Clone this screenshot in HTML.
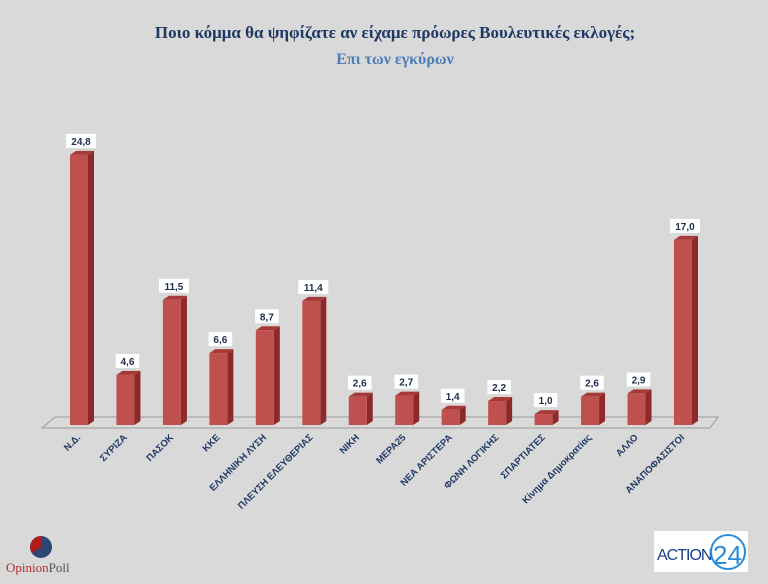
<!DOCTYPE html>
<html><head><meta charset="utf-8"><style>
body{margin:0;width:768px;height:579px;background:#d9d9d9;overflow:hidden;font-family:"Liberation Sans",sans-serif}
</style></head><body>
<svg width="768" height="579" id="c">
<text x="395" y="38" text-anchor="middle" font-family="Liberation Serif" font-weight="bold" font-size="17" fill="#1f3864">Ποιο κόμμα θα ψηφίζατε αν είχαμε πρόωρες Βουλευτικές εκλογές;</text>
<text x="395" y="64" text-anchor="middle" font-family="Liberation Serif" font-weight="bold" font-size="16" fill="#4a7ebb">Επι των εγκύρων</text>
<polygon points="55,417 718,417 710,428 42,428" fill="#d9d9d9" stroke="#9a9a9a"/>
<g id="bars"></g>
<g>
<circle cx="41" cy="547" r="11" fill="#2e4672"/>
<path d="M41,547 L41,536 A11,11 0 0 0 32,553 Z" fill="#b01c1c"/>
<text x="6" y="572" font-family="Liberation Serif" font-size="13" fill="#b03030">Opinion<tspan fill="#555">Poll</tspan></text>
</g>
<g>
<rect x="654" y="531" width="94" height="41" fill="#fff"/>
<text x="657" y="560" font-size="16" fill="#1b3e8c" letter-spacing="-1">ACTION</text>
<text x="713" y="564" font-size="26" fill="#2a8bd6">24</text>
<circle cx="728" cy="552" r="17" fill="none" stroke="#2a8bd6" stroke-width="2"/>
</g>
</svg>
<script>
const categories=["Ν.Δ.","ΣΥΡΙΖΑ","ΠΑΣΟΚ","ΚΚΕ","ΕΛΛΗΝΙΚΗ ΛΥΣΗ","ΠΛΕΥΣΗ ΕΛΕΥΘΕΡΙΑΣ","ΝΙΚΗ","ΜΕΡΑ25","ΝΕΑ ΑΡΙΣΤΕΡΑ","ΦΩΝΗ ΛΟΓΙΚΗΣ","ΣΠΑΡΤΙΑΤΕΣ","Κίνημα Δημοκρατίας","ΑΛΛΟ","ΑΝΑΠΟΦΑΣΙΣΤΟΙ"];
const values=[24.8,4.6,11.5,6.6,8.7,11.4,2.6,2.7,1.4,2.2,1.0,2.6,2.9,17.0];
const labels=["24,8","4,6","11,5","6,6","8,7","11,4","2,6","2,7","1,4","2,2","1,0","2,6","2,9","17,0"];
const NS="http://www.w3.org/2000/svg";
const g=document.getElementById('bars');
const x=i=>79+i*46.46, y=v=>425-v*10.89;
function mk(t,a){const e=document.createElementNS(NS,t);for(const k in a)e.setAttribute(k,a[k]);return e;}
values.forEach((v,i)=>{
 const cx=x(i),top=y(v),l=cx-9,r=cx+9,d=6;
 const side=mk('polygon',{points:`${r},${top} ${r+d},${top-4} ${r+d},421 ${r},425`,fill:'#8b2a29'});
 
 
 g.appendChild(side);
 const tp=mk('polygon',{points:`${l},${top} ${l+d},${top-4} ${r+d},${top-4} ${r},${top}`,fill:'#a53a38'});
 
 
 g.appendChild(tp);
 const f=mk('rect',{x:l,y:top,width:18,height:425-top,fill:'#c0504d'});
 
 
 g.appendChild(f);
 const w=labels[i].length*6.5+4;
 const bg=mk('rect',{x:cx-w/2+2,y:top-21,width:w,height:14,fill:'#fff'});
 
 
 g.appendChild(bg);
 const t=mk('text',{x:cx+2,y:top-10,'text-anchor':'middle','font-size':'10','font-weight':'bold',fill:'#1f2d4d'});
 t.textContent=labels[i];
 
 
 g.appendChild(t);
 const c=mk('text',{x:cx+2,y:438,'text-anchor':'end','font-size':'9.5','font-weight':'bold',fill:'#1f3864',transform:`rotate(-45 ${cx+2} 438)`});
 c.textContent=categories[i];
 
 
 g.appendChild(c);
});
</script>
</body></html>
